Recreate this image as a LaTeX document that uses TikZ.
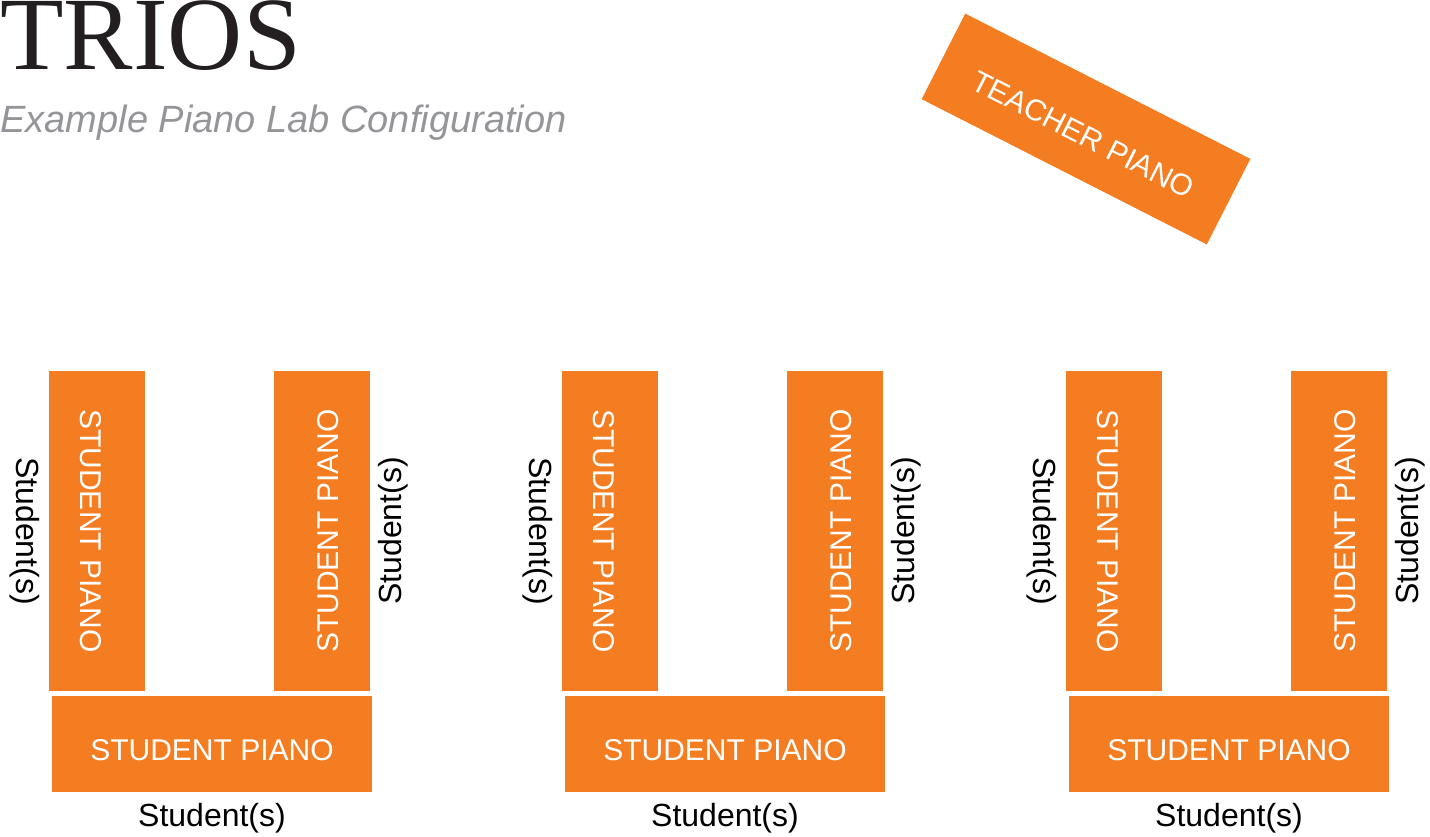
\documentclass[tikz,border=0pt]{standalone}
\usepackage{fontspec}
\setmainfont{Liberation Sans}
\newfontfamily\titlefont{Liberation Serif}
\definecolor{pianoorange}{HTML}{F47D22}
\definecolor{subgray}{HTML}{939598}
\definecolor{titleblack}{HTML}{231F20}
\tikzset{
  piano/.style={rectangle,fill=pianoorange,text=white,inner sep=0pt,
    minimum width=160pt,minimum height=48pt,font=\fontsize{15}{15}\selectfont,
    text height=16.7pt,text depth=0pt},
  seat/.style={inner sep=0pt,font=\fontsize{16}{16}\selectfont}
}
\begin{document}
\begin{tikzpicture}[x=0.5pt,y=-0.5pt]
            \useasboundingbox (0,0) rectangle (1430,836);
            % Title
            \node[anchor=base west,inner sep=0pt,text=titleblack,font=\titlefont\fontsize{52}{52}\selectfont] (title) at (0,69) {TRIOS};
            \node[anchor=base west,inner sep=0pt,text=subgray,font=\itshape\fontsize{19}{19}\selectfont] (sub) at (0,132) {Example Piano Lab Configuration};
            % Teacher
            \node[piano,rotate=-27] (T) at (1086,129) {TEACHER PIANO};
            % Student pianos
            \foreach \g/\dx in {1/0,2/513,3/1017} {
              \node[piano,rotate=-90] (L\g) at (97+\dx,531) {STUDENT PIANO};
              \node[piano,rotate=90] (R\g) at (322+\dx,531) {STUDENT PIANO};
              \node[piano] (B\g) at (212+\dx,744) {STUDENT PIANO};
              % Seats
              \node[seat,rotate=-90] (SL\g) at (25+\dx,531) {Student(s)};
              \node[seat,rotate=90] (SR\g) at (393+\dx,531) {Student(s)};
              \node[seat] (SB\g) at (212+\dx,818) {Student(s)};
            }
        \end{tikzpicture}
\end{document}
